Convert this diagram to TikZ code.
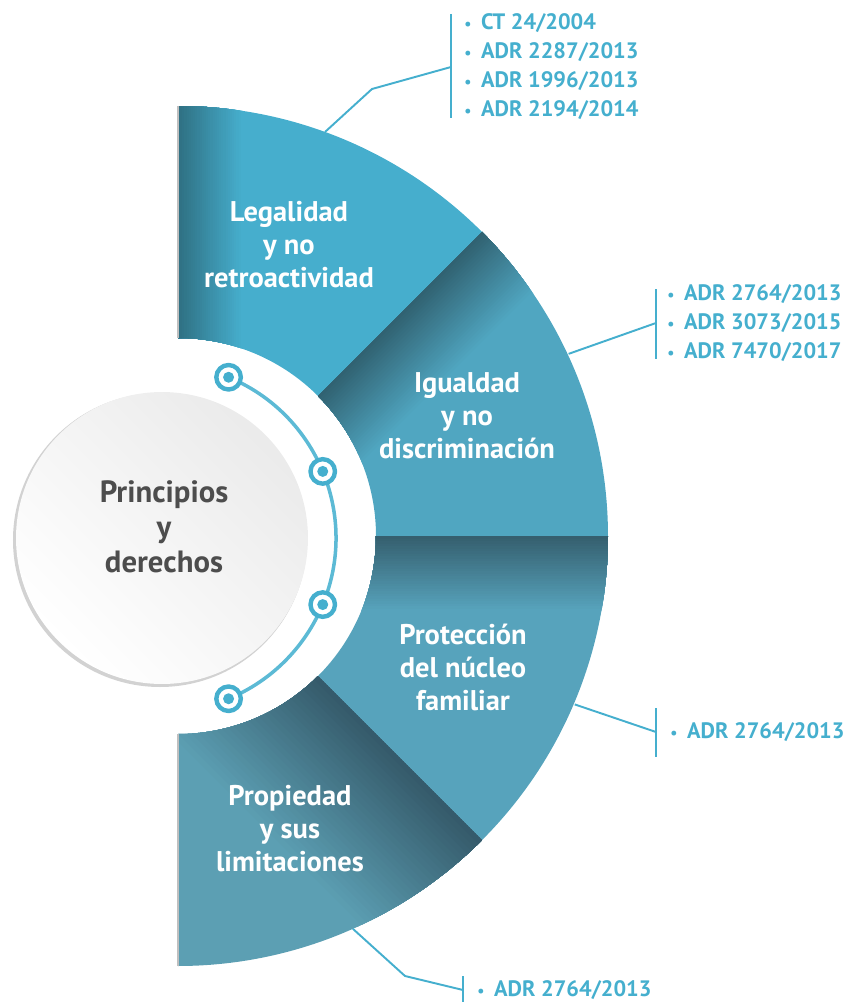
\documentclass[tikz,border=0pt]{standalone}
\usepackage{fontspec}
\setmainfont{PT Sans}
\usetikzlibrary{positioning,calc}

\definecolor{legbase}{HTML}{46AECD}
\definecolor{legdark}{HTML}{2E6E80}
\definecolor{eqbase}{HTML}{50A6C1}
\definecolor{eqdark}{HTML}{30606F}
\definecolor{fambase}{HTML}{57A3BC}
\definecolor{famdark}{HTML}{345D6C}
\definecolor{propbase}{HTML}{5C9FB3}
\definecolor{propdark}{HTML}{345868}
\definecolor{caseblue}{HTML}{45AFCE}
\definecolor{trackblue}{HTML}{5CBAD5}
\definecolor{hubgray}{HTML}{4D4D4D}

% one quarter-ring slice, upper edge at #1 degrees
\newcommand{\slicepath}[1]{(#1:198) -- (#1:430) arc[start angle=#1, end angle=#1-45, radius=430] -- ({#1-45}:198) arc[start angle=#1-45, end angle=#1, radius=198] -- cycle}
% slice with its shadow along the upper edge: angle, base, dark, shadow width
\newcommand{\slice}[4]{%
  \begin{scope}
    \clip \slicepath{#1};
    \fill[#2] (-500,-500) rectangle (700,600);
    \foreach \k in {30,29,...,1}{
      \pgfmathsetmacro\p{100*(1-\k/30)}
      \fill[#3!\p!#2, rotate=#1] (0,0) rectangle (500,-\k*#4/30);
    }
  \end{scope}}
% small bullet in front of a case number
\newcommand{\case}[1]{{\fontsize{9}{9}\selectfont\textbullet}\hspace{5.5pt}#1}

\begin{document}
\begin{tikzpicture}[
    x=0.02cm, y=0.02cm,
    label/.style={text=white, font=\bfseries\fontsize{16.2}{18.8}\selectfont, align=center},
    hubdisc/.style={circle, minimum size=5.84cm, inner sep=0pt, top color=gray!16, bottom color=white, shading angle=-45},
    hubtext/.style={text=hubgray, font=\bfseries\fontsize{17.5}{20}\selectfont, align=center},
    caselist/.style={text=caseblue, font=\bfseries\fontsize{12.7}{16.5}\selectfont, align=left, anchor=west, inner sep=0pt},
    leader/.style={draw=caseblue, line width=1.1pt},
    track/.style={draw=trackblue, line width=2pt},
    ring/.style={circle, draw=caseblue, line width=2.5pt, fill=white, minimum size=0.49cm, inner sep=0pt}
]
\useasboundingbox (-178,-466) rectangle (670,536);

% Slices
\slice{90}{legbase}{legdark}{65}
\slice{45}{eqbase}{eqdark}{80}
\slice{0}{fambase}{famdark}{75}
\slice{-45}{propbase}{propdark}{150}
\draw[gray!50, line width=0.7pt] (90:198) -- (90:430);
\draw[gray!50, line width=0.7pt] (-90:198) -- (-90:430);

% Slice labels
\node (legal) [label] at (111,291) {Legalidad\\y no\\retroactividad};
\node (equal) [label] at (289,120) {Igualdad\\y no\\discriminación};
\node (family) [label] at (285,-131) {Protección\\del núcleo\\familiar};
\node (property) [label] at (112,-293) {Propiedad\\y sus\\limitaciones};

% Hub
\fill[gray!35] (-18,-4) circle[radius=147];
\node (hub) [hubdisc] at (-16,-2) {};
\node (hubtitle) [hubtext] at ($(hub)+(2,11)$) {Principios\\y\\derechos};

% Track with rings
\draw[track] ($(hub)+(67.5:174)$) arc[start angle=67.5, end angle=-67.5, radius=174];
\foreach \a [count=\i] in {67.5,22.5,-22.5,-67.5}{
  \node (ring\i) [ring] at ($(hub)+(\a:174)$) {};
  \fill[caseblue] (ring\i) circle[radius=5.5];
}

% Leader points
\coordinate (legal-tip) at (70:430);
\coordinate (legal-knee) at (194,447);
\coordinate (legal-join) at (273,469);
\coordinate (equal-tip) at (25:431);
\coordinate (equal-join) at (478,213);
\coordinate (family-tip) at (-23:431);
\coordinate (family-join) at (478,-196);
\coordinate (property-tip) at (-66:430);
\coordinate (property-knee) at (227,-440);
\coordinate (property-join) at (285,-454);

% Leaders and bars
\draw[leader] (legal-tip) -- (legal-knee) -- (legal-join);
\draw[leader] ($(legal-join)+(0,53)$) -- ($(legal-join)+(0,-51)$);
\draw[leader] (equal-tip) -- (equal-join);
\draw[leader] ($(equal-join)+(0,34)$) -- ($(equal-join)+(0,-36)$);
\draw[leader] (family-tip) -- (family-join);
\draw[leader] ($(family-join)+(0,24)$) -- ($(family-join)+(0,-25)$);
\draw[leader] (property-tip) -- (property-knee) -- (property-join);
\draw[leader] ($(property-join)+(0,14)$) -- ($(property-join)+(0,-14)$);

% Case lists
\node (legal-cases) [caselist, right=0.26cm of legal-join] {\case{CT 24/2004}\\\case{ADR 2287/2013}\\\case{ADR 1996/2013}\\\case{ADR 2194/2014}};
\node (equal-cases) [caselist, right=0.22cm of equal-join] {\case{ADR 2764/2013}\\\case{ADR 3073/2015}\\\case{ADR 7470/2017}};
\node (family-cases) [caselist, right=0.28cm of family-join] {\case{ADR 2764/2013}};
\node (property-cases) [caselist, right=0.28cm of property-join] {\case{ADR 2764/2013}};

\end{tikzpicture}
\end{document}
